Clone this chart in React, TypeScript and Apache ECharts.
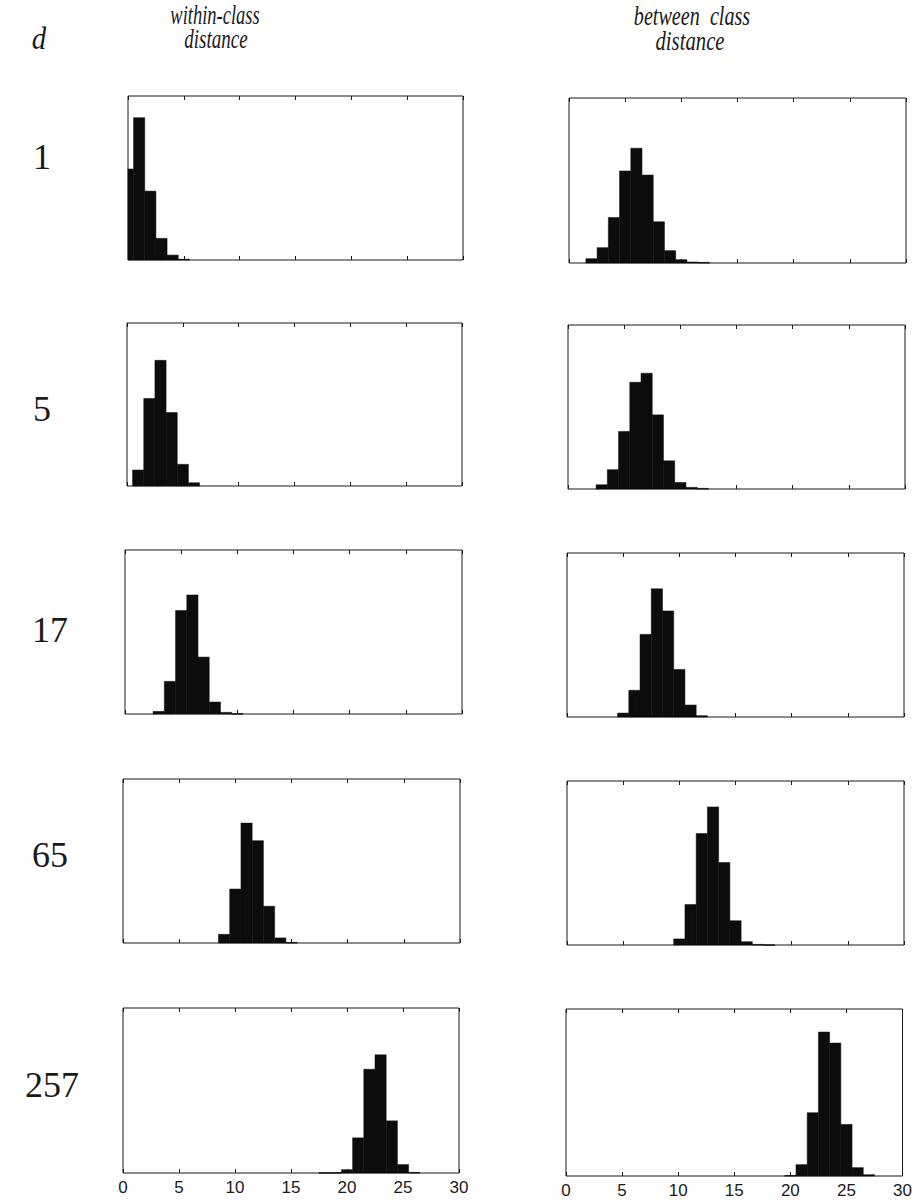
import React, { useEffect, useRef } from "react";
import * as echarts from "echarts";

// Dimension labels (rows)
const dims = ["1", "5", "17", "65", "257"];
// X-axis range and tick step (tick labels 0, 5, ..., 30)
const xMin = 0;
const xMax = 30;
const xInterval = 5;

// Histogram bin heights (fraction of axis height), bins of width 1 centred on integers
const withinFirstBin = [0, 1, 3, 9, 18];
const within_d1 = [0.555, 0.868, 0.42, 0.132, 0.03, 0.005];
const within_d5 = [0.098, 0.537, 0.771, 0.451, 0.133, 0.02];
const within_d17 = [0.016, 0.199, 0.631, 0.726, 0.347, 0.073, 0.01, 0.003];
const within_d65 = [0.053, 0.329, 0.731, 0.624, 0.224, 0.031, 0.004];
const within_d257 = [0.003, 0.003, 0.02, 0.213, 0.629, 0.716, 0.316, 0.051, 0.004];

const betweenFirstBin = [2, 3, 5, 10, 20];
const between_d1 = [0.026, 0.093, 0.276, 0.558, 0.696, 0.533, 0.25, 0.075, 0.02, 0.006, 0.004];
const between_d5 = [0.026, 0.118, 0.351, 0.651, 0.706, 0.452, 0.172, 0.04, 0.01, 0.004];
const between_d17 = [0.024, 0.163, 0.504, 0.782, 0.647, 0.29, 0.073, 0.008];
const between_d65 = [0.037, 0.247, 0.68, 0.842, 0.503, 0.148, 0.02, 0.004, 0.002];
const between_d257 = [0.004, 0.068, 0.379, 0.862, 0.796, 0.309, 0.05, 0.008];

const withinSeries = [within_d1, within_d5, within_d17, within_d65, within_d257];
const betweenSeries = [between_d1, between_d5, between_d17, between_d65, between_d257];

// Layout (px): [left, top, width, height]
const leftRects = [
  [128, 96, 335, 164],
  [127, 323, 335, 163],
  [125, 550, 337, 164],
  [123, 779, 337, 164],
  [123, 1008, 336, 165],
];
const rightRects = [
  [569, 98, 337, 165],
  [568, 325, 337, 164],
  [567, 553, 337, 164],
  [567, 781, 337, 164],
  [566, 1009, 338, 167],
];
const rowLabelPos = [
  [42, 157],
  [42, 409],
  [50, 630],
  [50, 855],
  [52, 1085],
];

const INK = "#1a1a1a";
const HAND = "Liberation Serif";

export default function App() {
  const ref = useRef<HTMLDivElement>(null);

  useEffect(() => {
    if (!ref.current) return;
    const chart = echarts.init(ref.current, undefined, { renderer: "svg" });

    const grids: any[] = [];
    const xAxes: any[] = [];
    const yAxes: any[] = [];
    const series: any[] = [];

    const panels: { rect: number[]; values: number[]; first: number; bottom: boolean }[] = [];
    for (let r = 0; r < dims.length; r++) {
      panels.push({ rect: leftRects[r], values: withinSeries[r], first: withinFirstBin[r], bottom: r === dims.length - 1 });
      panels.push({ rect: rightRects[r], values: betweenSeries[r], first: betweenFirstBin[r], bottom: r === dims.length - 1 });
    }

    panels.forEach((p, i) => {
      const [left, top, width, height] = p.rect;
      grids.push({
        left,
        top,
        width,
        height,
        show: true,
        borderColor: INK,
        borderWidth: 1,
        backgroundColor: "transparent",
        containLabel: false,
      });
      const base = {
        type: "value",
        gridIndex: i,
        min: xMin,
        max: xMax,
        interval: xInterval,
        axisLine: { show: false },
        splitLine: { show: false },
        axisTick: { show: true, inside: true, length: 4, lineStyle: { color: INK, width: 1 } },
      };
      xAxes.push({
        ...base,
        position: "bottom",
        axisLabel: {
          show: p.bottom,
          color: INK,
          fontFamily: "Liberation Sans",
          fontSize: 17,
          margin: 6,
        },
      });
      xAxes.push({
        ...base,
        position: "top",
        axisLabel: { show: false },
      });
      yAxes.push({
        type: "value",
        gridIndex: i,
        min: 0,
        max: 1,
        show: false,
      });
      const data = p.values.map((v, k) => [p.first + k, v]);
      series.push({
        type: "custom",
        xAxisIndex: i * 2,
        yAxisIndex: i,
        encode: { x: 0, y: 1 },
        data,
        renderItem: (params: any, api: any) => {
          const c = api.value(0);
          const h = api.value(1);
          const x0 = Math.max(c - 0.5, xMin);
          const x1 = Math.min(c + 0.5, xMax);
          const p0 = api.coord([x0, h]);
          const p1 = api.coord([x1, 0]);
          return {
            type: "rect",
            shape: { x: p0[0], y: p0[1], width: p1[0] - p0[0], height: Math.max(p1[1] - p0[1], 0.8) },
            style: { fill: "#0c0c0c", stroke: "#0c0c0c", lineWidth: 0.5 },
          };
        },
      });
    });

    const handText = (text: string, x: number, y: number, size: number, sx: number) => ({
      type: "text",
      x,
      y,
      scaleX: sx,
      style: {
        text,
        font: `italic ${size}px ${HAND}`,
        fill: INK,
        textAlign: "center",
        textVerticalAlign: "middle",
      },
    });

    const graphics: any[] = [
      handText("d", 39, 38, 32, 0.9),
      handText("within-class", 215, 15, 28, 0.66),
      handText("distance", 216, 39, 28, 0.68),
      handText("between  class", 692, 15, 28, 0.72),
      handText("distance", 690, 40, 28, 0.74),
      ...dims.map((d, r) => ({
        type: "text",
        x: rowLabelPos[r][0],
        y: rowLabelPos[r][1],
        style: { text: d, font: `36px ${HAND}`, fill: INK, textAlign: "center", textVerticalAlign: "middle" },
      })),
    ];

    chart.setOption({
      animation: false,
      backgroundColor: "#ffffff",
      grid: grids,
      xAxis: xAxes,
      yAxis: yAxes,
      series,
      graphic: graphics,
    });

    return () => chart.dispose();
  }, []);

  return (
    <div
      ref={ref}
      style={{ position: "absolute", left: 0, top: 0, width: 915, height: 1200, background: "#fff" }}
    />
  );
}
